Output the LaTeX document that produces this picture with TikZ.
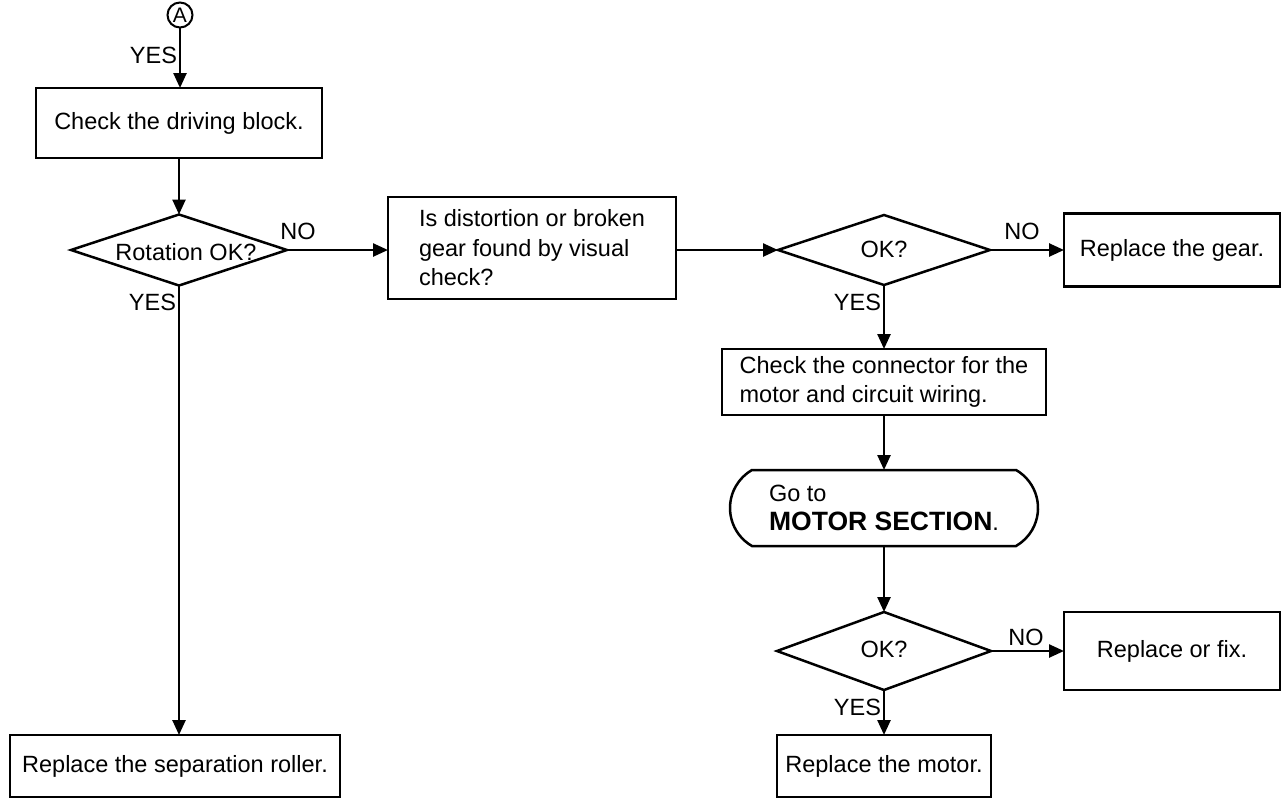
\documentclass[tikz,border=0pt]{standalone}
\usepackage{fontspec}
\setmainfont{Liberation Sans}
\usetikzlibrary{arrows.meta,shapes.geometric,shapes.misc}
\begin{document}
\begin{tikzpicture}[x=1pt,y=-1pt,
  every node/.style={font=\fontsize{23.5}{29.5}\selectfont, inner sep=0pt, outer sep=0pt},
  box/.style={draw, line width=2.5pt, rectangle, align=left},
  dia/.style={draw, line width=2.5pt, diamond},
  term/.style={draw, line width=2.5pt, rounded rectangle, rounded rectangle arc length=120, align=left},
  conn/.style={line width=2.5pt, -{Triangle[length=15pt,width=13pt]}}]
\useasboundingbox (0,0) rectangle (1282,798);

\node[circle, draw, line width=2pt, minimum size=25pt, font=\fontsize{21}{21}\selectfont] (A) at (180,15) {A};
\node[box, minimum width=286pt, minimum height=70pt] (b1) at (179,123) {Check the driving block.};
\node[dia, minimum width=216pt, minimum height=71pt] (d1) at (179,250) {};
\node (d1t) at (186,252) {Rotation OK?};
\node[box, minimum width=288pt, minimum height=102pt] (b2) at (532,248) {Is distortion or broken\\gear found by visual\\check?};
\node[dia, minimum width=212pt, minimum height=70pt] (d2) at (884,250) {};
\node (d2t) at (884,249) {OK?};
\node[box, minimum width=216pt, minimum height=73pt] (g) at (1172,250) {Replace the gear.};
\node[box, minimum width=324pt, minimum height=66pt] (b3) at (884,382) {Check the connector for the\\motor and circuit wiring.};
\node[term, minimum width=308pt, minimum height=76pt] (t) at (884,508) {Go to\\{\fontsize{26.5}{29.5}\selectfont\bfseries MOTOR SECTION}.};
\node[dia, minimum width=214pt, minimum height=78pt] (d3) at (884,651) {};
\node (d3t) at (884,649) {OK?};
\node[box, minimum width=216pt, minimum height=78pt] (f) at (1172,651) {Replace or fix.};
\node[box, minimum width=214pt, minimum height=62pt] (m) at (884,766) {Replace the motor.};
\node[box, minimum width=330pt, minimum height=62pt] (r) at (175,766) {Replace the separation roller.};

\node[anchor=east] (y0) at (177,55) {YES};
\node[anchor=east] (y1) at (176,302) {YES};
\node (n1) at (298,231) {NO};
\node (n2) at (1022,231) {NO};
\node[anchor=east] (y2) at (881,302) {YES};
\node (n3) at (1026,637) {NO};
\node[anchor=east] (y3) at (881,707) {YES};

\draw[conn] (A) -- (A |- b1.north);
\draw[conn] (b1) -- (d1);
\draw[conn] (d1.south) -- (d1.south |- r.north);
\draw[conn] (d1.east) -- (d1.east -| b2.west);
\draw[conn] (b2.east |- d2.west) -- (d2.west);
\draw[conn] (d2.east) -- (d2.east -| g.west);
\draw[conn] (d2.south) -- (b3.north);
\draw[conn] (b3.south) -- (t.north);
\draw[conn] (t.south) -- (d3.north);
\draw[conn] (d3.east) -- (d3.east -| f.west);
\draw[conn] (d3.south) -- (m.north);
\end{tikzpicture}
\end{document}
